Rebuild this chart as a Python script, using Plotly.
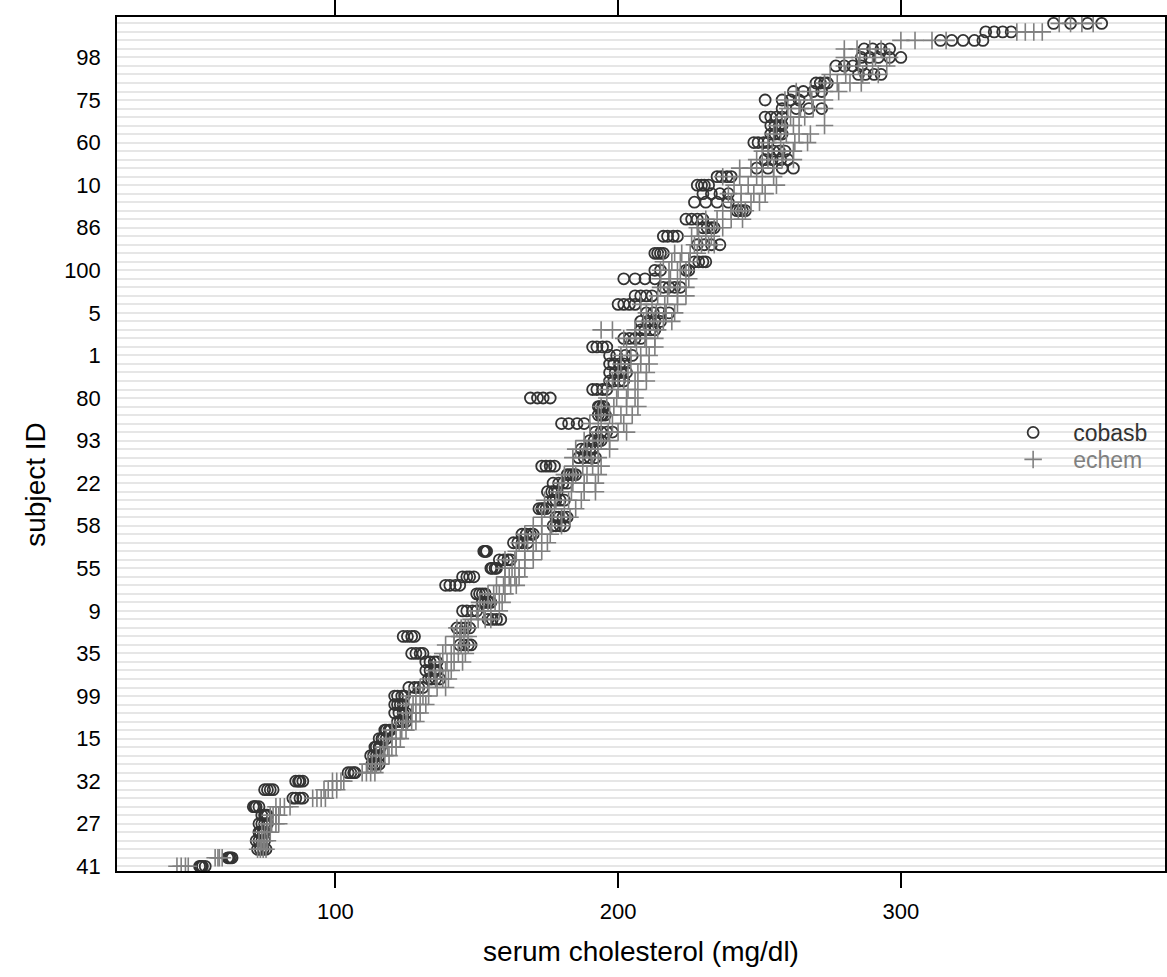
import plotly.graph_objects as go

# ---- data (rows ordered bottom -> top) ----
row_labels_pos = [1, 6, 11, 16, 21, 26, 31, 36, 41, 46, 51, 56, 61, 66, 71, 76, 81, 86, 91, 96]
row_labels_txt = ["41", "27", "32", "15", "99", "35", "9", "55", "58", "22",
                  "93", "80", "1", "5", "100", "86", "10", "60", "75", "98"]

cobasb_vals = [
    [52, 52.5, 53, 54], [62, 62.5, 63, 63.5], [72.5, 73.5, 74.5, 75.5], [72, 73, 74, 75],
    [73, 73.5, 74.5, 75], [73, 74, 75, 76], [74, 75, 75.5, 76], [71, 71.5, 72, 73],
    [85, 86, 87.5, 88.5], [75, 76, 77, 78], [86, 87, 87.5, 88.5], [104.5, 105.5, 106.5, 107],
    [113, 114, 114.5, 115.5], [112.5, 113.5, 114.5, 115.5], [114, 114.5, 115.5, 116], [115.5, 116.5, 117, 118],
    [117.5, 118, 119, 119.5], [122, 123, 124, 125], [121, 122.5, 124, 125], [121, 122, 123, 124],
    [121, 122, 123.5, 124.5], [126, 128, 129.5, 131], [133, 134, 135.5, 137], [132, 133.5, 135, 136],
    [132, 133.5, 135, 136], [127, 128.5, 130, 131], [144, 145.5, 147, 148], [124, 125.5, 127, 128],
    [143, 144.5, 146, 147.5], [154, 155.5, 157, 158.5], [145, 146.5, 148.5, 150], [152, 153, 154, 155],
    [150, 151, 152, 153], [139, 140.5, 142.5, 144], [145, 146.5, 147.5, 149], [155, 155.5, 156.5, 157],
    [158, 159.5, 161, 162], [152.5, 153, 153, 153.5], [163, 164.5, 166, 168], [166, 167.5, 169, 170],
    [177, 178, 179.5, 181], [178, 179, 180.5, 182], [172, 173, 173.5, 174.5], [177, 178, 179.5, 181],
    [175, 176.5, 177.5, 178.5], [177, 179, 180.5, 182], [182, 183, 184, 185], [173, 174.5, 176, 177.5],
    [186, 188, 190, 192], [187, 188.5, 190, 191], [190, 191.5, 193, 194], [192, 194, 196, 198],
    [180, 182.5, 185.5, 188], [193, 194, 194.5, 195.5], [193, 193.5, 194.5, 195], [169, 171.5, 173.5, 176],
    [191, 192.5, 194.5, 196], [197, 198.5, 200.5, 202], [197, 199, 201, 203], [197, 198.5, 200.5, 202],
    [197, 199.5, 202.5, 205], [191, 192.5, 194.5, 196], [202, 204, 206, 208], [208, 209.5, 211.5, 213],
    [208, 210.5, 213, 215], [210, 212.5, 215, 218], [200, 202, 204, 206], [206, 208, 210, 212],
    [216, 218, 220, 222], [202, 206, 209.5, 213], [213, 215, 224, 225], [227, 228.5, 230, 231],
    [213, 214, 215, 216], [228, 230.5, 233, 236], [216, 217.5, 219.5, 221], [230, 231.5, 233, 234],
    [224, 226, 228, 230], [242, 243, 244, 245], [227, 231, 235, 239], [230, 233, 236, 239],
    [228, 229.5, 230.5, 232], [235, 236.5, 238.5, 240], [249, 253, 258, 262], [252, 254.5, 257.5, 260],
    [253, 255, 257, 259], [248, 249.5, 251.5, 253], [254, 255.5, 257, 258], [254, 255.5, 257, 258],
    [252, 254, 256, 258], [258, 263, 267.5, 272], [252, 258, 261, 264], [262, 265.5, 269, 272],
    [270, 271.5, 273, 274], [285, 287.5, 290.5, 293], [277, 280, 283, 286], [286, 289, 292, 296, 300],
    [287, 290, 293, 296], [314, 318, 322, 326, 329], [330, 333, 336, 339], [354, 360, 366, 371],
]

echem_vals = [
    [44, 45.5, 47, 48], [57.5, 58.5, 59, 60], [72.5, 73.5, 74.5, 75.5], [73, 74, 75, 76],
    [74, 75, 76, 77], [76, 77.5, 79, 80], [77, 78, 79, 80], [79, 80.5, 82, 84],
    [92, 93.5, 95, 96.5], [96, 97.5, 99, 100.5], [99, 100.5, 102, 103], [109.5, 111, 112.5, 114],
    [111.5, 113, 114.5, 116], [114.5, 116, 117.5, 119], [117, 118.5, 120, 121.5], [118, 120, 121.5, 123],
    [120, 121.5, 123.5, 125], [124, 125.5, 127, 128.5], [125, 127, 128.5, 130], [125, 127.5, 130, 132],
    [126, 128.5, 131, 133], [130, 133, 136, 139], [133, 135.5, 138, 140], [135, 137, 139, 141],
    [137, 139.5, 142, 145], [138, 141, 143.5, 146], [139, 142, 144.5, 147], [142, 144, 145.5, 147],
    [143, 144.5, 146, 147], [148, 150.5, 153, 155], [150, 152.5, 155, 158], [151, 154, 156.5, 159],
    [154, 156, 158, 160], [157, 159.5, 162, 164], [160, 161.5, 163.5, 165], [160, 162.5, 165, 167],
    [160, 163.5, 167, 170], [164, 167, 170, 173], [165, 168, 171, 175], [167, 170, 173, 176],
    [170, 173, 176.5, 180], [173, 176.5, 180, 183], [174, 177.5, 181, 185], [174, 178, 182.5, 187],
    [179, 183.5, 188, 192], [180, 184, 188, 192], [181, 185, 189, 193], [184, 187.5, 191, 194],
    [184, 187.5, 190.5, 193], [185, 189, 193, 197], [188, 191, 194, 197], [193, 196.5, 200, 203],
    [190, 194, 198, 202], [193, 197, 201, 205], [194, 198.5, 203, 207], [196, 199.5, 203, 206],
    [196, 200, 203.5, 207], [198, 202, 206, 210], [200, 203.5, 207, 210], [201, 204.5, 208, 211],
    [201, 204.5, 208, 211], [203, 206.5, 210, 213], [202, 206, 209.5, 213], [194, 198, 206, 210, 214],
    [209, 212.5, 216, 219], [210, 213.5, 217, 220], [208, 212, 216.5, 221], [214, 217.5, 221, 224],
    [215, 218, 221, 224], [215, 218.5, 222, 225], [215, 218, 221, 224], [216, 219, 222, 225],
    [220, 222.5, 225.5, 228], [227, 229.5, 232, 234], [226, 228.5, 231, 233], [228, 231, 234, 237],
    [231, 235, 240, 244], [237, 240, 242.5, 245], [240, 243.5, 247, 250], [239, 243.5, 248, 252],
    [241, 246, 251, 256], [237, 243, 249, 255], [243, 247, 251, 255], [249, 253, 258, 262],
    [251, 254.5, 258.5, 262], [253, 257.5, 262.5, 267], [255, 259.5, 264, 268], [256, 259, 262, 273],
    [258, 261, 264, 266], [260, 264.5, 269, 273], [259, 264, 268.5, 273], [263, 268, 273, 278],
    [273, 277.5, 282, 286], [275, 280.5, 286.5, 292], [280, 285, 290, 295], [280, 285.5, 291, 296],
    [280, 284.5, 289, 293], [300, 305, 311, 316], [341, 344, 347, 350], [356, 360, 364, 368],
]

x_ticks = [100, 200, 300]

# ---- flatten ----
def flatten(vals):
    xs, ys = [], []
    for i, row in enumerate(vals):
        for v in row:
            xs.append(v)
            ys.append(i + 1)
    return xs, ys

cx, cy = flatten(cobasb_vals)
ex, ey = flatten(echem_vals)

FONT = "Liberation Sans, Arial, Helvetica, sans-serif"

fig = go.Figure()
fig.add_trace(go.Scatter(
    x=cx, y=cy, mode="markers", name="cobasb", legend="legend",
    marker=dict(symbol="circle-open", size=11, color="#333333", line=dict(width=1.8, color="#333333")),
))
fig.add_trace(go.Scatter(
    x=ex, y=ey, mode="markers", name="echem", legend="legend2",
    marker=dict(symbol="cross-thin-open", size=12.5, color="#808080", line=dict(width=1.6, color="#808080")),
))

n_rows = len(cobasb_vals)

leg_common = dict(xanchor="left", yanchor="middle", bgcolor="rgba(0,0,0,0)", borderwidth=0, itemwidth=70)

fig.update_layout(
    width=1167, height=977,
    margin=dict(l=117, r=0, t=16, b=106),
    paper_bgcolor="white", plot_bgcolor="white",
    font=dict(family=FONT, color="black", size=22),
    showlegend=True,
    legend=dict(x=0.836, y=0.5135, font=dict(size=23, color="#333333", family=FONT), **leg_common),
    legend2=dict(x=0.836, y=0.4819, font=dict(size=23, color="#808080", family=FONT), **leg_common),
    xaxis=dict(
        range=[22.8, 393.4], tickvals=x_ticks, ticktext=[str(t) for t in x_ticks],
        ticks="outside", ticklen=15, tickwidth=1.5, tickcolor="black",
        showline=True, linecolor="black", linewidth=1.5, mirror="ticks",
        showgrid=False, zeroline=False,
        tickfont=dict(size=22, color="black"), ticklabelstandoff=5,
        title=dict(text="serum cholesterol (mg/dl)", font=dict(size=28, color="black"), standoff=18),
    ),
    yaxis=dict(
        range=[0.45, n_rows + 0.75],
        tickmode="array", tickvals=row_labels_pos, ticktext=row_labels_txt,
        ticks="", showline=True, linecolor="black", linewidth=1.5, mirror=True,
        showgrid=True, gridcolor="#e6e6e6", gridwidth=2, zeroline=False,
        minor=dict(tickmode="linear", tick0=1, dtick=1, showgrid=True, gridcolor="#e6e6e6", gridwidth=2, ticks=""),
        tickfont=dict(size=22, color="black"), ticklabelstandoff=10,
    ),
    annotations=[dict(
        text="subject ID", textangle=-90, xref="paper", yref="paper",
        x=-0.078, y=0.4526, xanchor="center", yanchor="middle", showarrow=False,
        font=dict(size=28, color="black", family=FONT),
    )],
)

fig.write_html("out.html")
